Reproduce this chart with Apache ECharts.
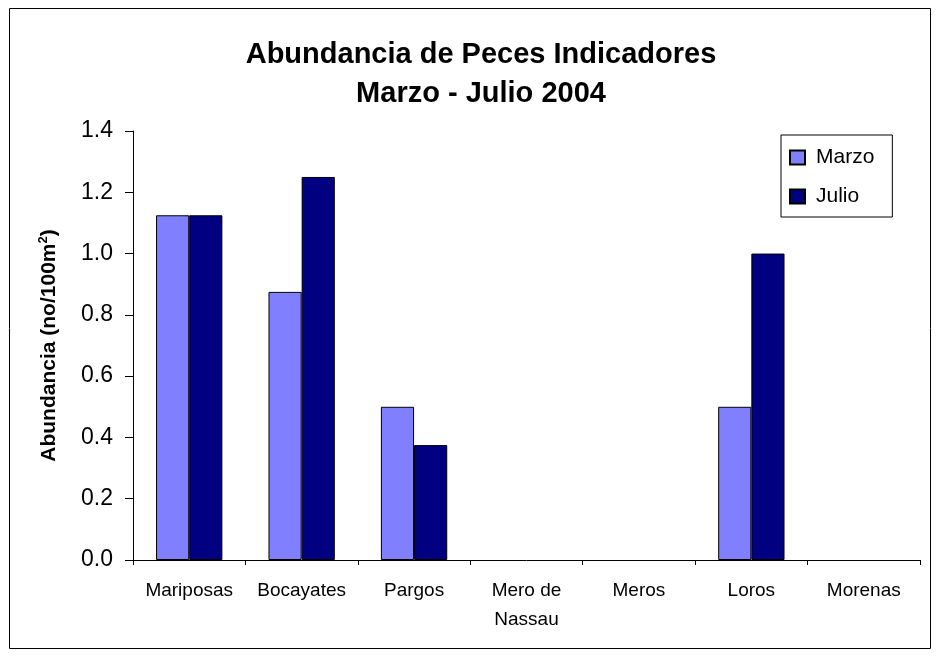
<!DOCTYPE html>
<html>
<head>
<meta charset="utf-8">
<script src="https://cdn.jsdelivr.net/npm/echarts@6/dist/echarts.min.js"></script>
<style>
  html, body { margin: 0; padding: 0; background: #fff; }
  #chart { width: 940px; height: 656px; }
</style>
</head>
<body>
<div id="chart"></div>
<script>
// categorias y valores (no/100m2)
var categories = ['Mariposas', 'Bocayates', 'Pargos', 'Mero de\nNassau', 'Meros', 'Loros', 'Morenas'];
var marzo = [1.125, 0.875, 0.5, 0, 0, 0.5, 0];
var julio = [1.125, 1.25, 0.375, 0, 0, 1.0, 0];
var yTicks = [0, 0.2, 0.4, 0.6, 0.8, 1.0, 1.2, 1.4];

var chart = echarts.init(document.getElementById('chart'));
var fontFam = '"Liberation Sans", Arial, sans-serif';

// barras de valor cero sin borde (como en el original)
function toBars(arr) {
  return arr.map(function (v) {
    return v === 0 ? { value: v, itemStyle: { borderWidth: 0 } } : v;
  });
}

var option = {
  backgroundColor: '#ffffff',
  animation: false,
  textStyle: { fontFamily: fontFam },
  title: {
    text: 'Abundancia de Peces Indicadores\nMarzo - Julio 2004',
    left: 476,
    top: 30,
    textAlign: 'center',
    textStyle: { fontSize: 29, fontWeight: 'bold', color: '#000', lineHeight: 39, fontFamily: fontFam }
  },
  graphic: [{
    type: 'rect',
    shape: { x: 9.5, y: 8.5, width: 921, height: 640 },
    style: { fill: 'none', stroke: '#000', lineWidth: 1 },
    silent: true
  }],
  legend: {
    orient: 'vertical',
    left: 781,
    top: 135,
    padding: [12, 18, 10, 8],
    itemGap: 18,
    itemWidth: 15,
    itemHeight: 14,
    icon: 'rect',
    borderColor: '#000',
    borderWidth: 1,
    borderRadius: 0,
    textStyle: { fontSize: 21, color: '#000', fontFamily: fontFam, padding: [0, 0, 0, 6] },
    data: ['Marzo', 'Julio']
  },
  grid: { left: 133, right: 20, top: 131, bottom: 96 },
  xAxis: {
    type: 'category',
    data: categories,
    axisLine: { lineStyle: { color: '#000' } },
    axisTick: { show: true, length: 5, lineStyle: { color: '#000' } },
    axisLabel: { color: '#000', fontSize: 19, margin: 16, lineHeight: 29, interval: 0, fontFamily: fontFam }
  },
  yAxis: {
    type: 'value',
    min: yTicks[0],
    max: yTicks[yTicks.length - 1],
    interval: 0.2,
    name: '{b|Abundancia (no/100m}{s|2}{b|)}',
    nameLocation: 'middle',
    nameGap: 72,
    nameTextStyle: {
      color: '#000',
      rich: {
        b: { fontSize: 21, fontWeight: 'bold', color: '#000', fontFamily: fontFam, lineHeight: 24 },
        s: { fontSize: 13, fontWeight: 'bold', color: '#000', fontFamily: fontFam, verticalAlign: 'top', lineHeight: 24, padding: [0, 0, 10, 0] }
      }
    },
    axisLine: { show: true, lineStyle: { color: '#000' } },
    axisTick: { show: true, length: 8, lineStyle: { color: '#000' } },
    splitLine: { show: false },
    axisLabel: {
      color: '#000', fontSize: 23, margin: 20, fontFamily: fontFam,
      formatter: function (v) { return v.toFixed(1); }
    }
  },
  series: [{
    name: 'Marzo',
    type: 'bar',
    data: toBars(marzo),
    barGap: '0%',
    barCategoryGap: '41%',
    itemStyle: { color: '#8080FF', borderColor: '#000', borderWidth: 1 }
  }, {
    name: 'Julio',
    type: 'bar',
    data: toBars(julio),
    itemStyle: { color: '#000080', borderColor: '#000', borderWidth: 1 }
  }]
};

chart.setOption(option);
</script>
</body>
</html>
